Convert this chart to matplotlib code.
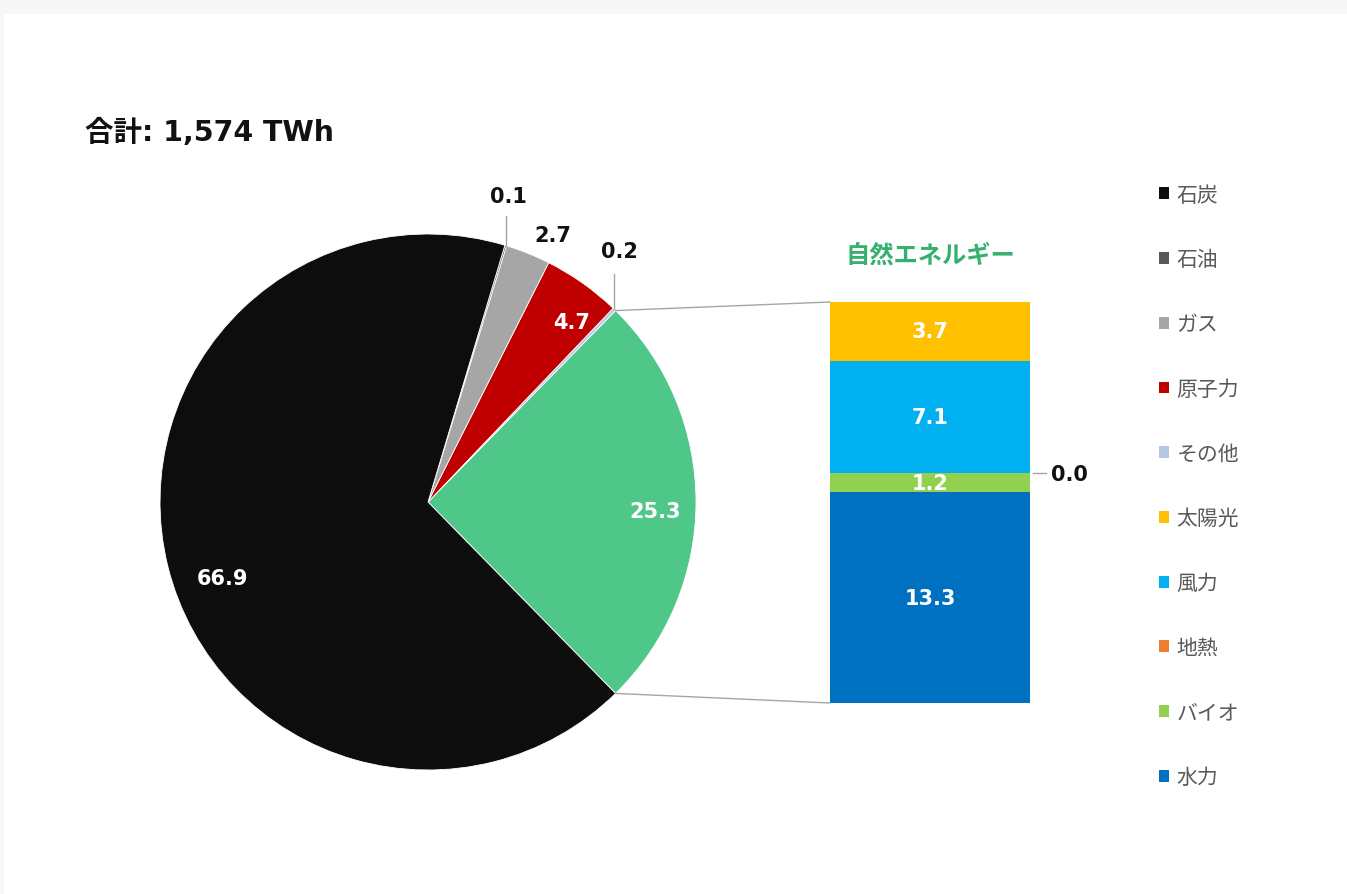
import matplotlib
matplotlib.use("Agg")
import matplotlib.pyplot as plt
from matplotlib.patches import Rectangle, Patch
from matplotlib.patches import ConnectionPatch
import numpy as np

plt.rcParams['font.family'] = ['Noto Sans CJK JP', 'DejaVu Sans']

# ---------------- data ----------------
pie_labels = ['自然エネルギー', 'その他', '原子力', 'ガス', '石油', '石炭']
pie_values = [25.3, 0.2, 4.7, 2.7, 0.1, 66.9]
pie_colors = ['#4fc789', '#b4c7e7', '#c00000', '#a6a6a6', '#595959', '#0d0d0d']

bar_labels = ['水力', 'バイオ', '地熱', '風力', '太陽光']
bar_values = [13.3, 1.2, 0.0, 7.1, 3.7]
bar_colors = ['#0070c0', '#92d050', '#ed7d31', '#00b0f0', '#ffc000']

legend_order = ['石炭', '石油', 'ガス', '原子力', 'その他', '太陽光', '風力', '地熱', 'バイオ', '水力']
title_text = '合計: 1,574 TWh'
bar_title = '自然エネルギー'

# ---------------- figure ----------------
W, H = 1347, 895
fig = plt.figure(figsize=(W / 100, H / 100), dpi=100, facecolor='white')
# light grey frame (top band and left strip)
fig.patches.append(Rectangle((0, 1 - 15 / H), 1, 15 / H, transform=fig.transFigure,
                             facecolor='#f7f7f7', edgecolor='none', zorder=-10))
fig.patches.append(Rectangle((0, 0), 4 / W, 1, transform=fig.transFigure,
                             facecolor='#f7f7f7', edgecolor='none', zorder=-10))

# pie axes
cx, cy, R = 428, 503, 268
ax = fig.add_axes([(cx - R) / W, (H - cy - R) / H, 2 * R / W, 2 * R / H])
total = sum(pie_values)
start = -pie_values[0] / total * 360 / 2
wedges, _ = ax.pie(pie_values, colors=pie_colors, startangle=start, counterclock=True,
                   wedgeprops=dict(edgecolor='white', linewidth=0.6))
ax.set_xlim(-1, 1)
ax.set_ylim(-1, 1)
ax.set_aspect('equal')
ax.axis('off')

def mid(w):
    return np.deg2rad((w.theta1 + w.theta2) / 2)

def pol(r, a_deg):
    a = np.deg2rad(a_deg)
    return r * np.cos(a), r * np.sin(a)

num_font = dict(family='DejaVu Sans', fontweight='bold')
# inside labels (label index, radius, angle offset deg, colour)
inside = [(0, 0.85, -2.3, 'white'), (2, 0.86, -3.3, 'white'), (5, 0.818, 6.5, 'white')]
for i, r, off, c in inside:
    a = np.rad2deg(mid(wedges[i])) + off
    x, y = pol(r, a)
    ax.text(x, y, f'{pie_values[i]:.1f}', ha='center', va='center', color=c,
            fontsize=15, clip_on=False, **num_font)

# gas label outside
a = np.rad2deg(mid(wedges[3])) - 3.2
x, y = pol(1.1, a)
ax.text(x, y, f'{pie_values[3]:.1f}', ha='center', va='center', color='#111111',
        fontsize=15, clip_on=False, **num_font)

# small labels with vertical leaders (oil, other)
for i, ytop, ytext, dx in [(4, 1.067, 1.14, 0.01), (1, 0.85, 0.937, 0.02)]:
    m = mid(wedges[i])
    ex, ey = np.cos(m), np.sin(m)
    ax.plot([ex, ex], [ey, ytop], color='#a6a6a6', lw=1, clip_on=False)
    ax.text(ex + dx, ytext, f'{pie_values[i]:.1f}', ha='center', va='center',
            color='#111111', fontsize=15, clip_on=False, **num_font)

# bar axes
bx0, bx1, by_top, by_bot = 830, 1030, 303, 704
bax = fig.add_axes([bx0 / W, (H - by_bot) / H, (bx1 - bx0) / W, (by_bot - by_top) / H])
bottom = 0.0
centers = []
for v, c in zip(bar_values, bar_colors):
    bax.bar(0, v, width=1.0, bottom=bottom, color=c, edgecolor='none')
    centers.append(bottom + v / 2)
    bottom += v
bax.set_xlim(-0.5, 0.5)
bax.set_ylim(0, sum(bar_values))
bax.axis('off')
for v, yc in zip(bar_values, centers):
    if v > 0:
        bax.text(0, yc, f'{v:.1f}', ha='center', va='center', color='white',
                 fontsize=15, **num_font)
# geothermal 0.0 label with leader
geo_y = centers[2]
bax.plot([0.515, 0.58], [geo_y, geo_y], color='#a6a6a6', lw=1, clip_on=False)
bax.text(0.605, geo_y - 0.05, f'{bar_values[2]:.1f}', ha='left', va='center',
         color='#111111', fontsize=15, clip_on=False, **num_font)

bax.text(0, sum(bar_values) + 3.0, bar_title, ha='center', va='center', color='#36b06e',
         fontsize=17.5, fontweight='bold', clip_on=False)

# connector lines
g = wedges[0]
for th, yb in [(g.theta2, sum(bar_values)), (g.theta1, 0)]:
    p = (np.cos(np.deg2rad(th)), np.sin(np.deg2rad(th)))
    con = ConnectionPatch(xyA=p, coordsA=ax.transData, xyB=(-0.5, yb), coordsB=bax.transData,
                          color='#a6a6a6', lw=1)
    fig.add_artist(con)

# title
fig.text(85 / W, 1 - 133 / H, title_text, ha='left', va='center', fontsize=20.5,
         fontweight='bold', color='#111111', family=['DejaVu Sans', 'Noto Sans CJK JP'])

# legend
color_map = dict(zip(pie_labels, pie_colors))
color_map.update(dict(zip(bar_labels, bar_colors)))
handles = [Patch(facecolor=color_map[l], edgecolor='none') for l in legend_order]
leg = fig.legend(handles, legend_order, loc='upper left',
                 bbox_to_anchor=(1140 / W, 1 - 166 / H), frameon=False,
                 prop=dict(size=15), handlelength=0.5, handleheight=0.5, handletextpad=0.35,
                 labelspacing=2.05, labelcolor='#595959')

fig.savefig('out.png', dpi=100, facecolor='white')
